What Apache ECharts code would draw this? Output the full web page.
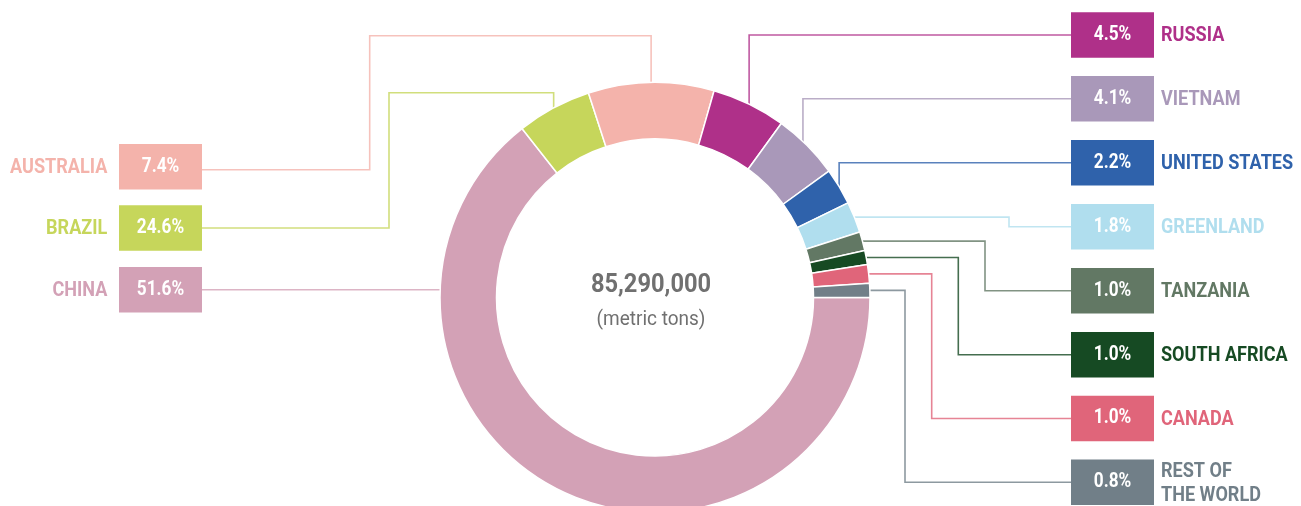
<!DOCTYPE html>
<html><head><meta charset="utf-8">
<script src="https://cdn.jsdelivr.net/npm/echarts@6/dist/echarts.min.js"></script>
<style>html,body{margin:0;padding:0;background:#fff}#c{width:1301px;height:506px}</style>
</head><body><div id="c"></div>
<script>
// ---- data ----
const countries = ['China','Brazil','Australia','Russia','Vietnam','United States','Greenland','Tanzania','South Africa','Canada','Rest of the World'];
const labelNames = ['CHINA','BRAZIL','AUSTRALIA','RUSSIA','VIETNAM','UNITED STATES','GREENLAND','TANZANIA','SOUTH AFRICA','CANADA','REST OF\nTHE WORLD'];
const shareLabels = [51.6, 24.6, 7.4, 4.5, 4.1, 2.2, 1.8, 1.0, 1.0, 1.0, 0.8];
// arc sizes as drawn in the reference (percent of the ring)
const arcShares = [64.39, 5.61, 9.44, 5.56, 5.00, 2.75, 2.33, 1.42, 1.06, 1.39, 1.06];
const totalText = '85,290,000';
const unitText = '(metric tons)';

// ---- styles / layout ----
const colors = ['#D3A1B6','#C6D65B','#F4B3AB','#AF3089','#A998B9','#2F62AB','#B0DEEE','#627864','#164A23','#E0657A','#717F88'];
const CX = 655, CY = 297.5, R_IN = 158.5, R_OUT = 215;
const FF = 'Roboto, "Noto Sans", sans-serif';
const COND = 0.86;
const BOX_W = 83, BOX_H = 45.5;
const LEFT_BOX_X = 119, RIGHT_BOX_X = 1071;
const layout = [
  {side:'L', top:267,   route:'straight'},
  {side:'L', top:205.3, route:'upover', topY:92.7, bendX:389},
  {side:'L', top:144,   route:'upover', topY:35.7, bendX:369.7, lineDy:3},
  {side:'R', top:12.3,  route:'up'},
  {side:'R', top:76,    route:'up', dx:-4},
  {side:'R', top:140,   route:'up'},
  {side:'R', top:204,   route:'right', bendX:1009},
  {side:'R', top:268,   route:'right', bendX:985},
  {side:'R', top:332,   route:'right', bendX:958.3},
  {side:'R', top:395.7, route:'right', bendX:931.7},
  {side:'R', top:459.5, route:'right', bendX:905}
];

const chart = echarts.init(document.getElementById('c'), null, {renderer:'canvas'});
const sum = arcShares.reduce((a,b)=>a+b,0);
const graphics = [];
let cum = 0;
arcShares.forEach((v,i)=>{
  const mid = 90 + 360*(cum + v/2)/sum; // degrees clockwise from 12 o'clock
  cum += v;
  const rad = mid*Math.PI/180;
  const L = layout[i];
  const ax = CX + R_OUT*Math.sin(rad) + (L.dx || 0), ay = CY - R_OUT*Math.cos(rad);
  const boxX = L.side === 'L' ? LEFT_BOX_X : RIGHT_BOX_X;
  const boxCY = L.top + BOX_H/2;
  const lineY = boxCY + (L.lineDy || 0);
  const edgeX = L.side === 'L' ? boxX + BOX_W : boxX;
  let pts;
  if (L.route === 'straight') {
    const sx = CX - Math.sqrt(R_OUT*R_OUT - (CY-lineY)*(CY-lineY));
    pts = [[sx+1, lineY],[edgeX, lineY]];
  } else if (L.route === 'upover') {
    pts = [[ax, ay+2],[ax, L.topY],[L.bendX, L.topY],[L.bendX, lineY],[edgeX, lineY]];
  } else if (L.route === 'up') {
    pts = [[ax, ay+4],[ax, lineY],[edgeX, lineY]];
  } else {
    pts = [[ax-2, ay],[L.bendX, ay],[L.bendX, lineY],[edgeX, lineY]];
  }
  graphics.push({type:'polyline', z:0, shape:{points:pts}, style:{stroke:colors[i], lineWidth:1.6, opacity:0.8, fill:null}, silent:true});
  graphics.push({type:'rect', z:5, shape:{x:boxX, y:L.top, width:BOX_W, height:BOX_H}, style:{fill:colors[i]}, silent:true});
  graphics.push({type:'text', z:6, x:boxX+BOX_W/2, y:boxCY, scaleX:COND,
    style:{text:shareLabels[i].toFixed(1)+'%', fill:'#fff', font:'bold 20px '+FF, textAlign:'center', textVerticalAlign:'middle', align:'center', verticalAlign:'middle'}, silent:true});
  const nameX = L.side === 'L' ? 107.3 : 1161;
  const al = L.side === 'L' ? 'right' : 'left';
  graphics.push({type:'text', z:6, x:nameX, y:boxCY+1, scaleX:COND,
    style:{text:labelNames[i], fill:colors[i], font:'bold 21px '+FF, lineHeight:24, textAlign:al, textVerticalAlign:'middle', align:al, verticalAlign:'middle'}, silent:true});
});
graphics.push({type:'text', z:6, x:651, y:285, scaleX:0.91,
  style:{text:totalText, fill:'#707070', font:'bold 26px '+FF, textAlign:'center', textVerticalAlign:'middle', align:'center', verticalAlign:'middle'}, silent:true});
graphics.push({type:'text', z:6, x:651, y:320, scaleX:0.95,
  style:{text:unitText, fill:'#707070', font:'20px '+FF, textAlign:'center', textVerticalAlign:'middle', align:'center', verticalAlign:'middle'}, silent:true});

chart.setOption({
  animation:false,
  backgroundColor:'#fff',
  series:[{
    type:'pie',
    center:[CX, CY],
    radius:[R_IN, R_OUT],
    startAngle:0,
    clockwise:true,
    silent:true,
    label:{show:false},
    labelLine:{show:false},
    itemStyle:{borderColor:'#fff', borderWidth:1.5},
    data: countries.map((n,i)=>({name:n, value:arcShares[i], itemStyle:{color:colors[i]}}))
  }],
  graphic:{elements:graphics}
});
</script></body></html>
